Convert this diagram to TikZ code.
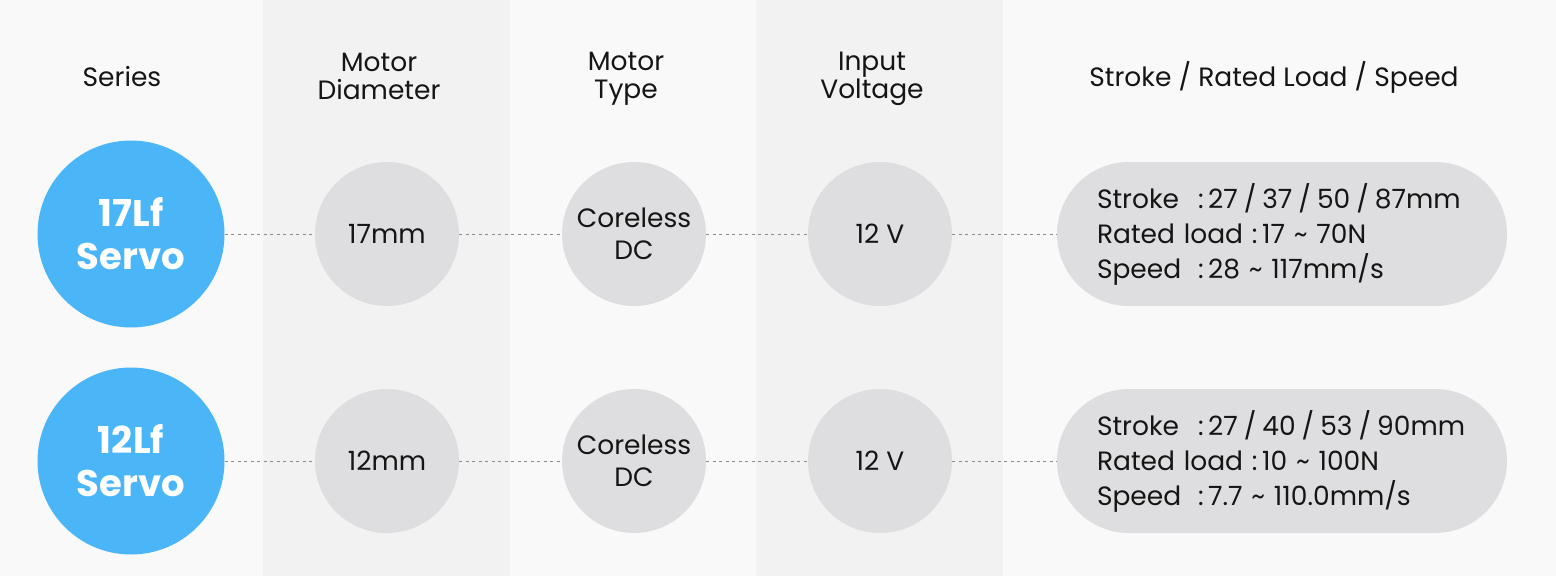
\documentclass[tikz,border=0pt]{standalone}
\usepackage{fontspec}
\setmainfont{Poppins}
\usetikzlibrary{positioning}

\definecolor{pagebg}{HTML}{F9F9F9}
\definecolor{stripe}{HTML}{F2F2F2}
\definecolor{servoblue}{HTML}{4AB6F8}
\definecolor{specgray}{HTML}{DEDEE0}
\definecolor{dotgray}{HTML}{8A8A8A}
\definecolor{ink}{HTML}{151515}

% label and separators inside the pills
\newcommand{\plabel}[1]{\makebox[101pt][l]{#1}}
\newcommand{\psl}{\hspace{6pt}/\hspace{6pt}}

\begin{document}
\begin{tikzpicture}[
                            x=1pt, y=-1pt,
                            node distance=2cm,
                            font=\fontsize{26.5}{28}\selectfont,
                            head/.style={align=center, text=ink},
                            series/.style={circle, fill=servoblue, minimum size=187pt, inner sep=0pt, align=center, text=white, font=\fontsize{37}{43}\selectfont\bfseries},
                            spec/.style={circle, fill=specgray, minimum size=144pt, inner sep=0pt, align=center, text=ink, font=\fontsize{26.5}{32}\selectfont},
                            specpill/.style={rectangle, rounded corners=72pt, fill=specgray, minimum height=144pt, text width=370pt, inner xsep=40pt, align=left, text=ink, font=\fontsize{26.5}{35}\selectfont},
                            link/.style={draw=dotgray, line width=0.8pt, dash pattern=on 3pt off 3.5pt}
                            ]

                            % background and column stripes
                            \useasboundingbox[fill=pagebg] (0,0) rectangle (1556,576);
                            \fill[stripe] (263,0) rectangle (510,576);
                            \fill[stripe] (756,0) rectangle (1003,576);

                            % column heads
                            \node [head] (hseries) at (122,77) {Series};
                            \node [head] (hdiam) at (379,76) {Motor\\Diameter};
                            \node [head] (htype) at (626,79) {Motor\\Type};
                            \node [head] (hvolt) at (872,79) {Input\\Voltage};
                            \node [head] (hrange) at (1274,77) {Stroke / Rated Load / Speed};

                            % first row
                            \node [series] (s1) at (131,234) {17Lf\\Servo};
                            \node [spec] (d1) at (387,234) {17mm};
                            \node [spec] (t1) at (634,234) {Coreless\\DC};
                            \node [spec] (v1) at (880,234) {12 V};
                            \node [specpill] (r1) at (1282,234) {\mbox{\plabel{Stroke}:\,27\psl 37\psl 50\psl 87mm}\\\mbox{Rated load :\,17 \textasciitilde{} 70N}\\\mbox{\plabel{Speed}:\,28 \textasciitilde{} 117mm/s}};

                            % second row
                            \node [series] (s2) at (131,461) {12Lf\\Servo};
                            \node [spec] (d2) at (387,461) {12mm};
                            \node [spec] (t2) at (634,461) {Coreless\\DC};
                            \node [spec] (v2) at (880,461) {12 V};
                            \node [specpill] (r2) at (1282,461) {\mbox{\plabel{Stroke}:\,27\psl 40\psl 53\psl 90mm}\\\mbox{Rated load :\,10 \textasciitilde{} 100N}\\\mbox{\plabel{Speed}:\,7.7 \textasciitilde{} 110.0mm/s}};

                            \draw[link] (s1) -- (d1);
                            \draw[link] (d1) -- (t1);
                            \draw[link] (t1) -- (v1);
                            \draw[link] (v1) -- (r1);
                            \draw[link] (s2) -- (d2);
                            \draw[link] (d2) -- (t2);
                            \draw[link] (t2) -- (v2);
                            \draw[link] (v2) -- (r2);
                        \end{tikzpicture}
\end{document}
